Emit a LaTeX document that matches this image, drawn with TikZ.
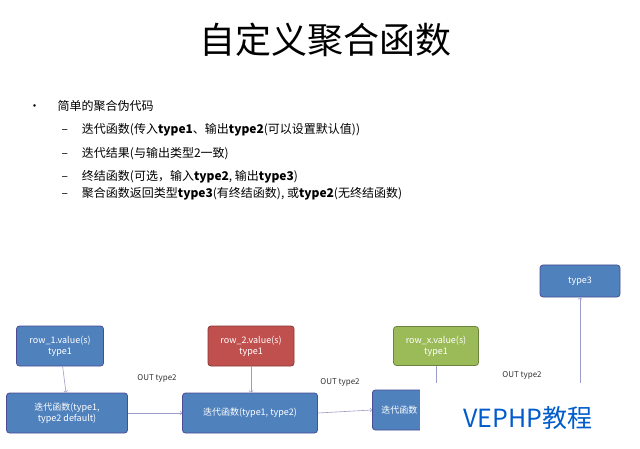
\documentclass[tikz,border=0pt]{standalone}
\usepackage{fontspec}
\setmainfont{Noto Sans CJK SC}
\newfontfamily\cjk{Noto Sans CJK SC}
\begin{document}
\begin{tikzpicture}[x=1pt,y=-1pt,
  bx/.style={draw=blue!40!black!70, line width=0.8pt, fill=boxblue, rounded corners=3pt, text=white, align=center, font=\fontsize{9}{11}\selectfont, inner sep=0pt},
  conn/.style={draw=gray!70!blue!60, ->, line width=0.6pt},
  lbl/.style={font=\fontsize{8}{10}\selectfont, text=black!80}]
\definecolor{boxblue}{HTML}{4F81BD}
\definecolor{boxred}{HTML}{C0504D}
\definecolor{boxgreen}{HTML}{9BBB59}
\useasboundingbox (0,0) rectangle (640,449);
\fill[white] (0,0) rectangle (640,449);
\node (title) at (325,40) {\fontsize{36}{40}\selectfont\cjk 自定义聚合函数};
\node[anchor=west,font=\fontsize{12}{14}\selectfont] (b0) at (25,106) {•\hspace{17pt}简单的聚合伪代码};
\foreach \y/\t [count=\i] in {130/{迭代函数(传入\textbf{type1}、输出\textbf{type2}(可以设置默认值))},
  154/{迭代结果(与输出类型2一致)},
  177/{终结函数(可选，输入\textbf{type2}, 输出\textbf{type3})},
  194/{聚合函数返回类型\textbf{type3}(有终结函数), 或\textbf{type2}(无终结函数)}}
  \node[anchor=west,font=\fontsize{12}{14}\selectfont] (s\i) at (58,\y) {–\hspace{14pt}\t};
\node[bx, minimum width=121pt, minimum height=40pt] (f1) at (67,413) {迭代函数(type1,\\type2 default)};
\node[bx, minimum width=87pt, minimum height=40pt] (r1) at (60,346) {row\_1.value(s)\\type1};
\node[bx, minimum width=135pt, minimum height=40pt] (f2) at (250,413) {迭代函数(type1, type2)};
\node[bx, fill=boxred, draw=boxred!70!black, minimum width=86pt, minimum height=40pt] (r2) at (251,346) {row\_2.value(s)\\type1};
\node[bx, minimum width=120pt, minimum height=40pt, anchor=west, text width=110pt, align=left] (f3) at (372,410) {\hspace{4pt}迭代函数};
\node[bx, fill=boxgreen, draw=boxgreen!70!black, minimum width=85pt, minimum height=39pt] (rx) at (436,346) {row\_x.value(s)\\type1};
\node[bx, minimum width=80pt, minimum height=32pt] (t3) at (580,281) {type3};
\draw[conn] (r1) -- (f1.north -| 66,393);
\draw[conn] (r2) -- (f2.north -| 251,393);
\draw[conn] (f1) -- (f2);
\draw[conn] (f2.east) -- (f3.west);
\draw[conn] (rx.south) -- (436,392);
\coordinate (c3) at (580,385);
\draw[conn] (c3) -- (t3);
\node[lbl] (o1) at (157,378) {OUT type2};
\node[lbl] (o2) at (340,382) {OUT type2};
\node[lbl] (o3) at (522,375) {OUT type2};
\fill[white] (420,383) rectangle (640,449);
\node[text=blue!55!cyan!80!black, font=\fontsize{25}{28}\selectfont] (wm) at (528,418) {VEPHP教程};
\end{tikzpicture}
\end{document}
